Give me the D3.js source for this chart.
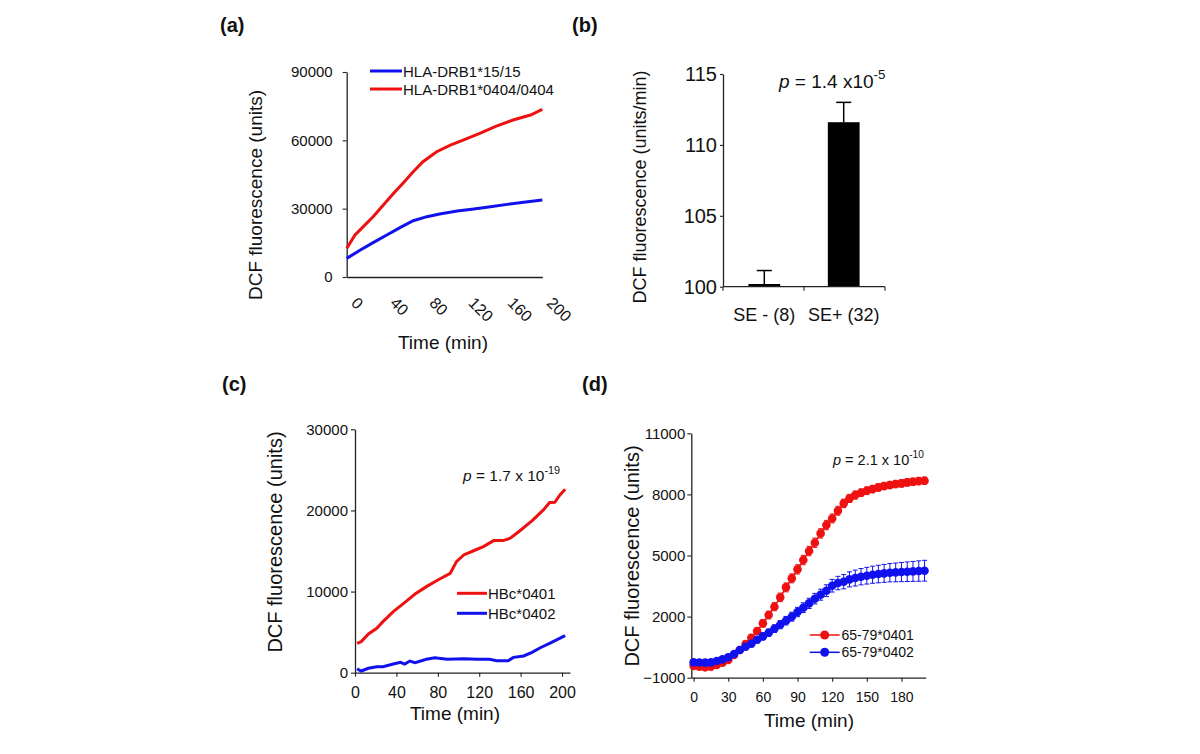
<!DOCTYPE html>
<html><head><meta charset="utf-8">
<script src="https://cdn.jsdelivr.net/npm/d3@7"></script>
<style>
body{margin:0;background:#fff}
svg{display:block}
text{font-family:"Liberation Sans",Arial,sans-serif;fill:#111}
</style>
</head><body>
<svg id="chart" width="1200" height="754"></svg>
<script>
// ---------- DATA ----------
// Panel (a)
const timesA_red = [0,8.5,17,27,37.5,48,58,68,78,92,106,119,136,153,170,188,200];
const redA = [12580,18430,22090,26480,31600,36720,41400,46230,50620,55010,57930,60130,63050,66270,68910,71100,73590];
const timesA_blue = [0,14,27,41,55,68,82,95,113,130,147,164,181,200];
const blueA = [8190,11850,15070,18430,21800,24720,26480,27650,28970,29850,30870,31890,32770,33800];
const legendA = ["HLA-DRB1*15/15","HLA-DRB1*0404/0404"];
const yTicksA = [0,30000,60000,90000];
const xTicksA = [0,40,80,120,160,200];

// Panel (b)
const categoriesB = ["SE - (8)","SE+ (32)"];
const valuesB = [100.19,111.6];
const errorsB = [0.95,1.4];
const yTicksB = [100,105,110,115];

// Panel (c)
const timesC_red = [2,6,13,21,27,37,47,58,69,80,92,98,105,114,124,134,143,150,159,172,182,188,193,198,203];
const redC = [3620,3830,4770,5470,6290,7530,8550,9700,10610,11430,12250,13690,14510,15000,15540,16280,16280,16570,17470,18830,20060,20970,21000,21910,22610];
const timesC_blue = [2,6,13,21,27,37,44,48,53,58,69,77,89,105,118,130,137,148,153,163,171,179,188,203];
const blueC = [460,210,540,740,740,1070,1280,1070,1440,1240,1650,1850,1650,1730,1650,1650,1480,1480,1890,2060,2510,3080,3620,4560];
const legendC = ["HBc*0401","HBc*0402"];
const yTicksC = [0,10000,20000,30000];
const xTicksC = [0,40,80,120,160,200];

// Panel (d)
const timesD = [0,5,10,15,20,25,30,35,40,45,50,55,60,65,70,75,80,85,90,95,100,105,110,115,120,125,130,135,140,145,150,155,160,165,170,175,180,185,190,195,200];
const redD = [-426,-458,-491,-458,-377,-262,-131,114,359,654,965,1292,1669,2078,2486,2944,3435,3877,4319,4777,5219,5628,6086,6495,6820,7198,7558,7803,7967,8081,8179,8261,8343,8409,8458,8507,8540,8589,8622,8654,8671];
const redErrD = [100,100,100,100,100,110,120,130,140,150,160,170,180,190,200,210,220,220,230,230,230,230,230,230,220,220,210,200,200,190,190,180,180,180,180,180,180,180,180,180,180];
const blueD = [-247,-254,-262,-246,-180,-99,0,163,359,523,670,867,1030,1210,1407,1603,1799,1995,2224,2437,2650,2879,3076,3272,3517,3648,3713,3828,3893,3959,4008,4057,4090,4122,4155,4171,4188,4204,4220,4237,4253];
const blueErrD = [80,80,80,80,90,100,110,120,130,140,150,160,170,180,190,200,210,220,230,240,250,260,270,290,310,330,350,370,390,400,410,420,430,440,450,460,470,480,490,500,510];
const legendD = ["65-79*0401","65-79*0402"];
const yTicksD = [-1000,2000,5000,8000,11000];
const xTicksD = [0,30,60,90,120,150,180];

// ---------- DRAW ----------
const RED = "#ee1111", BLUE = "#1111ee", AX = "#222";
const svg = d3.select("#chart");
svg.append("rect").attr("width",1200).attr("height",754).attr("fill","#fff");

function styleAxis(g, fs){
  g.select(".domain").attr("stroke",AX).attr("stroke-width",1.3);
  g.selectAll(".tick line").attr("stroke",AX).attr("stroke-width",1.1);
  g.selectAll(".tick text").attr("fill","#111").style("font-size",fs+"px")
    .style("font-family","'Liberation Sans',Arial,sans-serif");
}
function panelLabel(txt,x,y){
  svg.append("text").attr("x",x).attr("y",y).attr("font-weight","bold")
    .style("font-size","20px").text(txt);
}
function yTitle(txt,x,y,fs){
  svg.append("text").attr("transform",`translate(${x},${y}) rotate(-90)`)
    .attr("text-anchor","middle").attr("dominant-baseline","central")
    .style("font-size",fs+"px").text(txt);
}
function xTitle(txt,x,y,fs){
  svg.append("text").attr("x",x).attr("y",y).attr("text-anchor","middle")
    .attr("dominant-baseline","central").style("font-size",fs+"px").text(txt);
}
function pText(x,y,fs,main,sup){
  const t = svg.append("text").attr("x",x).attr("y",y).style("font-size",fs+"px");
  t.append("tspan").attr("font-style","italic").text("p");
  t.append("tspan").text(main);
  t.append("tspan").attr("dy",-fs*0.45).style("font-size",(fs*0.7)+"px").text(sup);
}

// ===== Panel (a) =====
{
  const x = d3.scaleLinear([0,200],[346.7,542.3]);
  const y = d3.scaleLinear([0,90000],[277,72]);
  const gy = svg.append("g").attr("transform",`translate(${x(0)},0)`)
    .call(d3.axisLeft(y).tickValues(yTicksA).tickSize(4).tickSizeOuter(0).tickPadding(10).tickFormat(d3.format("d")));
  styleAxis(gy,15);
  const gx = svg.append("g").attr("transform",`translate(0,${y(0)})`)
    .call(d3.axisBottom(x).tickValues(xTicksA).tickSize(0).tickSizeOuter(0));
  styleAxis(gx,16);
  gx.selectAll(".tick text").attr("text-anchor","start").attr("x",0).attr("y",0).attr("dy",0)
    .attr("transform","translate(3,27) rotate(45)");
  const line = d3.line().x(d=>x(d[0])).y(d=>y(d[1]));
  svg.append("path").datum(d3.zip(timesA_blue,blueA)).attr("d",line)
    .attr("fill","none").attr("stroke",BLUE).attr("stroke-width",3);
  svg.append("path").datum(d3.zip(timesA_red,redA)).attr("d",line)
    .attr("fill","none").attr("stroke",RED).attr("stroke-width",3);
  [[BLUE,71],[RED,89]].forEach((c,i)=>{
    svg.append("line").attr("x1",370).attr("x2",402).attr("y1",c[1]).attr("y2",c[1])
      .attr("stroke",c[0]).attr("stroke-width",3);
    svg.append("text").attr("x",403).attr("y",c[1]).attr("dominant-baseline","central")
      .style("font-size","15px").text(legendA[i]);
  });
  yTitle("DCF fluorescence (units)",255,195,19);
  xTitle("Time (min)",443,342,19);
  panelLabel("(a)",220,32);
}

// ===== Panel (b) =====
{
  const x = d3.scaleBand(categoriesB,[723,885]).paddingInner(0.6).paddingOuter(0.32);
  const y = d3.scaleLinear([100,115],[286.7,74]);
  svg.selectAll(".barB").data(categoriesB).join("rect")
    .attr("x",d=>x(d)).attr("width",x.bandwidth())
    .attr("y",(d,i)=>y(valuesB[i])).attr("height",(d,i)=>y(100)-y(valuesB[i]))
    .attr("fill","#000");
  categoriesB.forEach((c,i)=>{
    const cx = x(c)+x.bandwidth()/2, top = y(valuesB[i]+errorsB[i]);
    svg.append("line").attr("x1",cx).attr("x2",cx).attr("y1",y(valuesB[i])).attr("y2",top)
      .attr("stroke","#000").attr("stroke-width",1.5);
    svg.append("line").attr("x1",cx-7.5).attr("x2",cx+7.5).attr("y1",top).attr("y2",top)
      .attr("stroke","#000").attr("stroke-width",1.5);
  });
  const gy = svg.append("g").attr("transform","translate(723,0)")
    .call(d3.axisLeft(y).tickValues(yTicksB).tickSize(3).tickSizeOuter(0).tickPadding(3));
  styleAxis(gy,20);
  const gx = svg.append("g").attr("transform",`translate(0,${y(100)})`)
    .call(d3.axisBottom(x).tickSize(0).tickSizeOuter(0).tickPadding(22));
  styleAxis(gx,18);
  gx.select(".domain").attr("d","M723,0H885");
  [723,804,885].forEach(px=>{
    gx.append("line").attr("x1",px).attr("x2",px).attr("y1",0).attr("y2",4)
      .attr("stroke",AX).attr("stroke-width",1.1);
  });
  yTitle("DCF fluorescence (units/min)",640,187,18);
  pText(779,88,19," = 1.4 x10","-5");
  panelLabel("(b)",572,32);
}

// ===== Panel (c) =====
{
  const x = d3.scaleLinear([0,207.7],[355,570]);
  const y = d3.scaleLinear([0,30000],[672.7,429.3]);
  const gy = svg.append("g").attr("transform","translate(355,0)")
    .call(d3.axisLeft(y).tickValues(yTicksC).tickSize(4).tickSizeOuter(0).tickPadding(3).tickFormat(d3.format("d")));
  styleAxis(gy,15);
  const gx = svg.append("g").attr("transform",`translate(0,${y(0)})`)
    .call(d3.axisBottom(x).tickValues(xTicksC).tickSize(4).tickSizeOuter(0).tickPadding(10));
  styleAxis(gx,16);
  const line = d3.line().x(d=>x(d[0])).y(d=>y(d[1]));
  svg.append("path").datum(d3.zip(timesC_red,redC)).attr("d",line)
    .attr("fill","none").attr("stroke",RED).attr("stroke-width",3);
  svg.append("path").datum(d3.zip(timesC_blue,blueC)).attr("d",line)
    .attr("fill","none").attr("stroke",BLUE).attr("stroke-width",3);
  [[RED,593.3],[BLUE,613.3]].forEach((c,i)=>{
    svg.append("line").attr("x1",457).attr("x2",487).attr("y1",c[1]).attr("y2",c[1])
      .attr("stroke",c[0]).attr("stroke-width",3);
    svg.append("text").attr("x",488).attr("y",c[1]).attr("dominant-baseline","central")
      .style("font-size","15px").text(legendC[i]);
  });
  pText(463,481,15.5," = 1.7 x 10","-19");
  yTitle("DCF fluorescence (units)",275,542,20);
  xTitle("Time (min)",455,713,19);
  panelLabel("(c)",222,391);
}

// ===== Panel (d) =====
{
  const x = d3.scaleLinear([-2,201],[691.3,925.7]);
  const y = d3.scaleLinear([-1000,11000],[677.7,433.3]);
  const gy = svg.append("g").attr("transform","translate(691.3,0)")
    .call(d3.axisLeft(y).tickValues(yTicksD).tickSize(4).tickSizeOuter(0).tickPadding(2).tickFormat(d3.format("d")));
  styleAxis(gy,15);
  const gx = svg.append("g").attr("transform",`translate(0,${y(-1000)})`)
    .call(d3.axisBottom(x).tickValues(xTicksD).tickSize(4).tickSizeOuter(0).tickPadding(10));
  styleAxis(gx,14);
  const line = d3.line().x(d=>x(d[0])).y(d=>y(d[1]));
  function series(vals, errs, color){
    const g = svg.append("g");
    g.append("path").datum(d3.zip(timesD,vals)).attr("d",line)
      .attr("fill","none").attr("stroke",color).attr("stroke-width",1.5);
    timesD.forEach((t,i)=>{
      const cx = x(t), y1 = y(vals[i]-errs[i]), y2 = y(vals[i]+errs[i]);
      g.append("line").attr("x1",cx).attr("x2",cx).attr("y1",y1).attr("y2",y2).attr("stroke",color).attr("stroke-width",1);
      g.append("line").attr("x1",cx-2.5).attr("x2",cx+2.5).attr("y1",y1).attr("y2",y1).attr("stroke",color).attr("stroke-width",1);
      g.append("line").attr("x1",cx-2.5).attr("x2",cx+2.5).attr("y1",y2).attr("y2",y2).attr("stroke",color).attr("stroke-width",1);
    });
    g.selectAll("circle").data(timesD).join("circle")
      .attr("cx",d=>x(d)).attr("cy",(d,i)=>y(vals[i])).attr("r",4.3).attr("fill",color);
  }
  series(redD,redErrD,RED);
  series(blueD,blueErrD,BLUE);
  [[RED,635],[BLUE,652.3]].forEach((c,i)=>{
    svg.append("line").attr("x1",809.7).attr("x2",839.7).attr("y1",c[1]).attr("y2",c[1])
      .attr("stroke",c[0]).attr("stroke-width",1.5);
    svg.append("circle").attr("cx",824.7).attr("cy",c[1]).attr("r",4.5).attr("fill",c[0]);
    svg.append("text").attr("x",841.5).attr("y",c[1]).attr("dominant-baseline","central")
      .style("font-size","14px").text(legendD[i]);
  });
  pText(833,465,14.5," = 2.1 x 10","-10");
  yTitle("DCF fluorescence (units)",632,556,20);
  xTitle("Time (min)",809,720,19);
  panelLabel("(d)",582,391);
}
</script>
</body></html>
